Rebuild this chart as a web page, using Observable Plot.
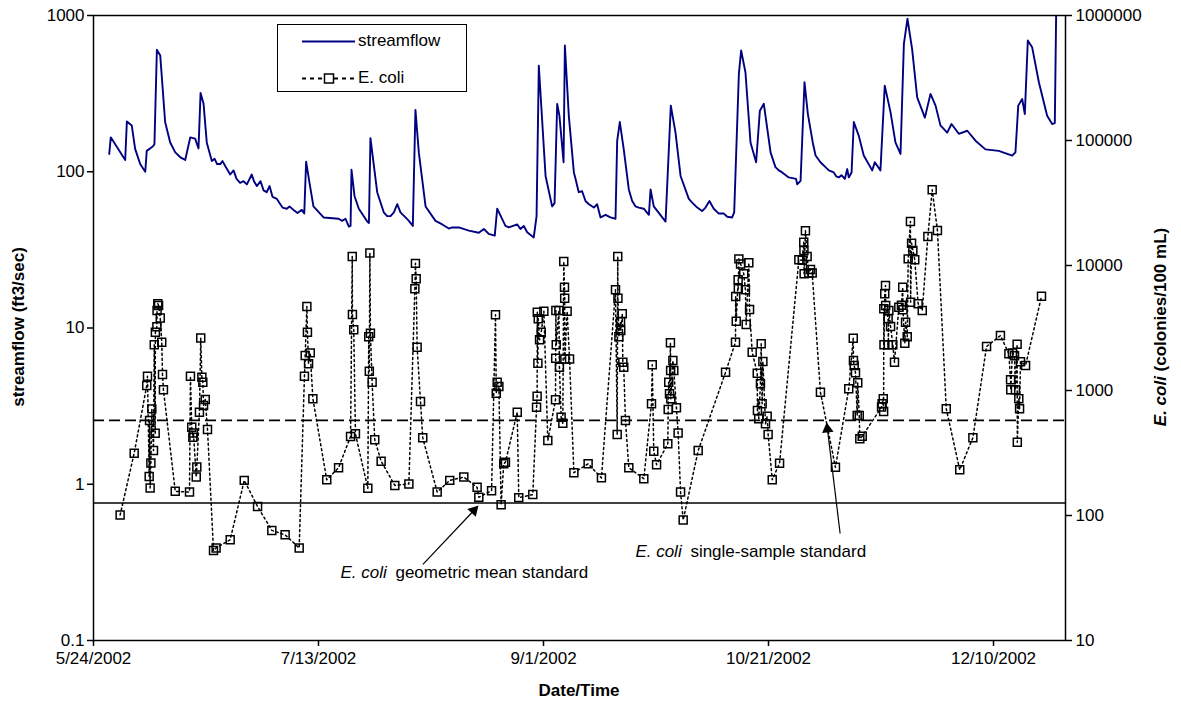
<!DOCTYPE html>
<html><head><meta charset="utf-8">
<script src="https://cdn.jsdelivr.net/npm/d3@7"></script>
<script src="https://cdn.jsdelivr.net/npm/@observablehq/plot@0.6"></script>
<style>body{margin:0;background:#fff;} svg{display:block}</style>
</head><body><div id="chart"></div>
<script>
// ---- streamflow (ft3/sec), times "m/d H" in 2002 ----
const flowTimes = [
"5/27 12","5/27 20","5/31 1","5/31 10","6/1 12","6/2 6","6/3 9","6/4 12","6/4 20","6/6 4",
"6/6 13","6/7 2","6/7 20","6/8 22","6/10 1","6/11 4","6/12 10","6/13 9","6/14 12","6/15 14",
"6/16 8","6/16 19","6/17 11","6/18 4","6/19 7","6/21 4","6/23 9","6/25 14","6/27 2","6/28 4",
"6/29 7","7/1 12","7/3 18","7/5 23","7/7 11","7/9 7","7/9 20","7/10 6","7/11 0","7/11 21",
"7/14 3","7/17 11","7/19 18","7/20 3","7/20 8","7/21 0","7/21 23","7/23 20","7/24 5","7/24 13",
"7/26 1","7/27 12","7/29 0","7/30 12","8/1 8","8/2 23","8/3 13","8/4 7","8/5 19","8/8 0",
"8/11 17","8/15 10","8/18 18","8/21 4","8/21 17","8/23 13","8/26 4","8/28 9","8/29 20","8/30 11",
"8/30 23","9/1 11","9/2 22","9/3 11","9/4 1","9/4 13","9/5 11","9/5 18","9/6 15","9/7 18",
"9/8 3","9/8 20","9/11 2","9/13 16","9/17 0","9/17 9","9/17 23","9/18 20","9/19 23","9/21 11",
"9/24 10","9/24 19","9/25 12","9/28 3","9/29 7","9/30 8","10/1 11","10/3 7","10/6 6","10/7 21",
"10/9 23","10/12 22","10/13 9","10/14 10","10/14 22","10/15 21","10/17 0","10/18 6","10/19 2","10/19 23",
"10/21 11","10/23 7","10/25 12","10/28 3","10/29 0","10/29 18","10/30 20","10/31 11","11/1 13","11/3 10",
"11/5 15","11/7 20","11/8 11","11/8 23","11/10 2","11/11 4","11/13 1","11/13 15","11/14 21","11/15 20",
"11/17 3","11/18 5","11/19 8","11/20 2","11/20 11","11/20 21","11/21 22","11/23 1","11/24 18","11/26 0",
"11/27 3","11/28 5","11/29 17","11/30 16","12/2 7","12/4 4","12/6 0","12/8 5","12/11 4","12/14 4",
"12/14 21","12/15 12","12/16 9","12/16 23","12/17 15","12/18 14","12/20 2","12/21 22","12/23 1","12/23 15",
"12/23 22","12/24 11"];
const flowValues = [
130,166,119,210,198,140,112,100,136,145,
150,603,554,208,154,133,123,119,166,163,
141,319,272,154,117,112,96,85,83,96,
81,74,67,58,57,57,54,116,85,60,
51,50,44.6,45,103,70,58,48,47,164,
74,55,52,62,51,45,249,133,60,48.5,
44,42,43,39,58,45,46,41,38,52,
477,94,60,63,272,228,115,642,228,99,
90,74,62,51,50,158,208,139,77,60,
53,77,60,48,265,178,94,67,56,65,
54,51,55,423,597,433,154,115,246,272,
133,102,92,87.5,374,234,154,127,115,102,
92,92,99,208,169,127,102,115,102,356,
240,154,130,658,782,953,610,299,222,315,
265,198,178,202,175,183,158,139,136,127,
133,265,292,234,692,627,374,228,202,205,
1000,1400];
// extra small wiggles read along the recessions
const flowDetailTimes = [
"6/19 22","6/20 11","6/21 16","6/22 8","6/24 3","6/24 19","6/26 8","6/28 16","6/30 3","6/30 19",
"7/2 3","7/2 19","7/5 0","7/6 13","7/8 8","7/18 6","7/19 0","7/28 6","7/29 18","7/31 5",
"8/2 2","8/9 12","8/10 23","8/13 4","8/17 15","8/19 20","8/24 7","8/26 21","8/27 15","9/9 14",
"9/10 8","9/12 5","9/12 22","9/14 19","9/15 21","9/20 17","9/22 4","9/23 7","9/24 1","10/4 1",
"10/5 4","10/7 0","10/8 20","10/11 2","10/11 20","10/22 13","10/24 1","10/27 3","10/27 9","11/2 16",
"11/4 12","11/5 1","11/6 5","11/6 23","11/7 12"];
const flowDetailValues = [
121,112,117,108,102,90,87,87,87,76,
81,69,59,60,54.5,48.5,50,52,55,55,
48.5,46,43.3,44,40.7,40,44,43,45,75,
65,59,62,53,51,65,59,58,54.5,63.5,
59,59,58,54,51.5,107,99,90,83,107,
99,93.5,95,90,104];

// ---- E. coli (colonies/100 mL) ----
const ecoliTimes = [
"5/29 22","6/2 1","6/4 20","6/5 0","6/5 9","6/5 11","6/5 14","6/5 18","6/5 23","6/6 8",
"6/6 12","6/6 17","6/6 18","6/7 2","6/7 3","6/7 7","6/7 11","6/7 20","6/8 4","6/8 8",
"6/8 13","6/11 4","6/14 8","6/14 13","6/14 20","6/15 2","6/15 5","6/15 20","6/15 23","6/16 13",
"6/16 20","6/17 2","6/17 7","6/17 11","6/17 20","6/18 8","6/19 16","6/20 6","6/23 9","6/26 12",
"6/29 11","7/2 15","7/5 14","7/8 17","7/9 21","7/10 1","7/10 10","7/10 13","7/10 19","7/11 4",
"7/11 18","7/14 20","7/17 11","7/20 3","7/20 12","7/20 13","7/20 20","7/21 5","7/23 23","7/24 4",
"7/24 7","7/24 10","7/24 13","7/24 22","7/25 12","7/26 22","7/29 23","8/2 2","8/3 10","8/3 13",
"8/3 17","8/3 22","8/4 16","8/5 4","8/8 9","8/11 4","8/14 7","8/17 6","8/17 15","8/20 11",
"8/21 8","8/21 12","8/21 17","8/22 2","8/22 14","8/23 4","8/23 13","8/26 4","8/26 12","8/29 15",
"8/30 11","8/30 14","8/30 15","8/30 18","8/30 20","8/31 3","8/31 12","9/1 2","9/1 23","9/3 16",
"9/3 17","9/3 18","9/3 20","9/4 10","9/4 13","9/4 22","9/5 7","9/5 12","9/5 16","9/5 17",
"9/5 18","9/6 6","9/6 19","9/7 18","9/10 22","9/13 21","9/17 0","9/17 9","9/17 12","9/17 13",
"9/17 18","9/18 3","9/18 4","9/18 12","9/18 15","9/18 20","9/19 5","9/19 23","9/23 7","9/25 0",
"9/25 4","9/25 12","9/26 3","9/28 15","9/28 17","9/28 20","9/29 0","9/29 5","9/29 6","9/29 7",
"9/29 18","9/29 23","9/30 13","9/30 22","10/1 11","10/2 1","10/5 9","10/11 11","10/13 16","10/13 17",
"10/13 20","10/14 6","10/14 7","10/14 10","10/14 19","10/15 12","10/15 21","10/16 1","10/16 15","10/16 19",
"10/17 9","10/18 12","10/18 13","10/18 20","10/19 5","10/19 9","10/19 14","10/19 18","10/20 8","10/20 17",
"10/20 22","10/21 20","10/23 11","10/27 18","10/28 12","10/28 20","10/28 21","10/28 22","10/29 5","10/29 14",
"10/29 23","10/30 8","10/30 17","11/1 13","11/4 21","11/7 20","11/8 20","11/8 21","11/9 1","11/9 8",
"11/9 17","11/9 20","11/10 4","11/10 7","11/10 20","11/15 3","11/15 6","11/15 12","11/15 14","11/15 15",
"11/15 16","11/15 20","11/16 0","11/16 1","11/16 14","11/16 15","11/16 18","11/17 3","11/17 15","11/18 0",
"11/18 23","11/19 13","11/19 20","11/19 21","11/20 7","11/20 11","11/20 20","11/21 1","11/21 13","11/21 14",
"11/21 19","11/22 2","11/22 12","11/23 6","11/24 4","11/25 10","11/26 9","11/27 13","11/29 12","12/2 12",
"12/5 10","12/8 11","12/11 13","12/13 10","12/13 19","12/13 20","12/14 5","12/14 16","12/14 21","12/15 6",
"12/15 7","12/15 15","12/15 19","12/16 0","12/17 3","12/20 16"];
const ecoliValues = [
101,315,1096,1300,205,575,166,263,713,331,
2320,455,2930,3240,4365,4950,4790,3800,2436,1343,
1013,156,154,1300,508,423,457,203,244,670,
2630,1277,1164,759,847,488,52.5,55,64,191,
118,76,70,55,1300,1905,4700,2930,1640,2000,
860,193,241,429,11800,4055,3060,450,165,2690,
1426,12600,2870,1164,403,272,174,179,6510,10400,
7830,2220,817,418,154,191,203,168,140,158,
4035,951,1164,1076,122,259,267,670,139,147,
735,900,4230,1653,3750,2545,2930,4300,398,843,
1813,4365,2320,4365,1536,611,547,10770,6700,5470,
1790,4300,1790,220,259,200,6390,445,11800,5470,
2690,3565,3020,4110,1683,1536,575,241,197,783,
1606,327,255,375,705,1164,941,2408,1445,860,
1738,1445,727,457,154,92,331,1400,2436,5650,
3580,7700,6510,11300,10300,8590,6390,3370,10500,4450,
2025,1375,692,594,1132,2366,783,1706,542,622,
445,193,262,11100,11000,15350,13200,8590,19000,11800,
8700,9300,8700,969,243,1031,2620,1738,1585,1385,
631,1153,631,411,431,737,783,859,679,4505,
2320,5940,6920,4790,3750,2320,4365,3250,2320,1683,
4640,4800,6700,4420,2390,3520,2690,11300,22500,5080,
15080,13200,11100,4950,4365,17060,40360,19050,714,232,
419,2250,2750,1968,1219,1013,2000,1900,1013,2340,
386,860,714,1700,1585,5675];

// standards (colonies/100 mL)
const geoMeanStd = 126;
const singleSampleStd = 576;

// axes
const leftTicks = [0.1, 1, 10, 100, 1000];
const rightTicks = [10, 100, 1000, 10000, 100000, 1000000];
const rightTickLabels = ["10", "100", "1000", "10000", "100000", "1000000"];
const xTickDates = ["5/24 0","7/13 0","9/1 0","10/21 0","12/10 0"];
const xStart = "5/24 0", xEnd = "12/26 0";

// annotations (positions in date / E. coli units)
const annLabels = ["geometric mean standard", "single-sample standard"];
const annText = [["7/17 21", 35], ["9/21 10", 51.5]];
const annTail = [["8/5 5", 40.6], ["11/5 22", 71.8]];
const annTip  = [["8/17 13", 120], ["11/2 22", 555]];

// ---------------------------------------------------------
const FONT = '"Liberation Sans", Arial, Helvetica, sans-serif';
const W = 1181, H = 708, mL = 93, mR = 116, mT = 15, mB = 68;
const parseT = s => d3.utcParse("%Y/%m/%d %H")("2002/" + s);
// right axis (E. coli, 10..1e6) drawn against left axis (0.1..1000)
const toLeft = e => Math.pow(10, -1 + (Math.log10(e) - 1) * 0.8);

const flow = flowTimes.map((t, i) => ({date: parseT(t), value: flowValues[i]}))
  .concat(flowDetailTimes.map((t, i) => ({date: parseT(t), value: flowDetailValues[i]})))
  .sort((a, b) => a.date - b.date);
const ecoli = ecoliTimes.map((t, i) => ({date: parseT(t), y: toLeft(ecoliValues[i])}));
const rightAxis = rightTicks.map((e, i) => ({y: toLeft(e), label: rightTickLabels[i]}));

const xs = d3.scaleUtc([parseT(xStart), parseT(xEnd)], [mL, W - mR]);
const ys = d3.scaleLog([0.1, 1000], [H - mB, mT]);
const headR = 4.3;
const apex = 2 * Math.sqrt(Math.PI * headR * headR / (Math.sqrt(3) * 3));
const arrows = annLabels.map((lab, i) => {
  const tx = xs(parseT(annTail[i][0])), ty = ys(toLeft(annTail[i][1]));
  const px = xs(parseT(annTip[i][0])), py = ys(toLeft(annTip[i][1]));
  const len = Math.hypot(px - tx, py - ty);
  const ux = (px - tx) / len, uy = (py - ty) / len;
  const cx = px - ux * apex, cy = py - uy * apex;
  return {
    x1: xs.invert(tx), y1: ys.invert(ty),
    x2: xs.invert(cx), y2: ys.invert(cy),
    angle: Math.atan2(ux, -uy) * 180 / Math.PI,
    tx: parseT(annText[i][0]), ty: toLeft(annText[i][1]), label: lab
  };
});

const plot = Plot.plot({
  width: W, height: H,
  marginLeft: mL, marginRight: mR, marginTop: mT, marginBottom: mB,
  style: {fontFamily: FONT, fontSize: "17px", background: "white", color: "black", overflow: "visible"},
  x: {type: "utc", domain: [parseT(xStart), parseT(xEnd)]},
  y: {type: "log", domain: [0.1, 1000]},
  marks: [
    Plot.ruleY([toLeft(singleSampleStd)], {stroke: "black", strokeWidth: 1.8, strokeDasharray: "11,5"}),
    Plot.ruleY([toLeft(geoMeanStd)], {stroke: "black", strokeWidth: 1.5}),
    Plot.line(flow, {x: "date", y: "value", stroke: "#000080", strokeWidth: 1.9, clip: true}),
    Plot.line(ecoli, {x: "date", y: "y", stroke: "black", strokeWidth: 1.5, strokeDasharray: "2,3"}),
    Plot.dot(ecoli, {x: "date", y: "y", symbol: "square", r: 4.5, stroke: "black", strokeWidth: 1.5, fill: "none"}),
    Plot.link(arrows, {x1: "x1", y1: "y1", x2: "x2", y2: "y2", stroke: "black", strokeWidth: 1.2}),
    Plot.dot(arrows, {x: "x2", y: "y2", symbol: "triangle", r: headR, fill: "black", stroke: "none", rotate: "angle"}),
    Plot.text(arrows, {x: "tx", y: "ty", text: () => "E. coli", fontStyle: "italic", textAnchor: "start", fontSize: 17, fill: "black"}),
    Plot.text(arrows, {x: "tx", y: "ty", text: "label", dx: 55, textAnchor: "start", fontSize: 17, fill: "black"}),
    Plot.frame({stroke: "black", strokeWidth: 1.5}),
    Plot.axisY(leftTicks, {anchor: "left", tickSize: 6, tickPadding: 3, tickFormat: d => String(d), label: null, fontSize: 17, strokeWidth: 1.5}),
    Plot.axisY(rightAxis.map(d => d.y), {anchor: "right", tickSize: 6, tickFormat: () => "", label: null, strokeWidth: 1.5}),
    Plot.text(rightAxis, {y: "y", text: "label", frameAnchor: "right", dx: 10, textAnchor: "start", fontSize: 17, fill: "black"}),
    Plot.axisX(xTickDates.map(parseT), {tickSize: 6, tickPadding: 5, tickFormat: d3.utcFormat("%-m/%-d/%Y"), label: null, fontSize: 17, strokeWidth: 1.5})
  ]
});
document.getElementById("chart").appendChild(plot);

// axis titles and legend
const svg = d3.select(plot);
const g = svg.append("g").attr("font-family", FONT).attr("fill", "black");
g.append("text").attr("transform", "translate(20,327) rotate(-90)").attr("text-anchor", "middle")
  .attr("dominant-baseline", "middle").attr("font-size", 17).attr("font-weight", "bold").text("streamflow (ft3/sec)");
const rt = g.append("text").attr("transform", "translate(1162,327) rotate(-90)").attr("text-anchor", "middle")
  .attr("dominant-baseline", "middle").attr("font-size", 17).attr("font-weight", "bold");
rt.append("tspan").attr("font-style", "italic").text("E. coli");
rt.append("tspan").text(" (colonies/100 mL)");
g.append("text").attr("x", (mL + W - mR) / 2).attr("y", 692).attr("text-anchor", "middle")
  .attr("dominant-baseline", "middle").attr("font-size", 17).attr("font-weight", "bold").text("Date/Time");

const lg = g.append("g").attr("font-size", 17).attr("text-anchor", "start");
lg.append("rect").attr("x", 277.5).attr("y", 24.5).attr("width", 189).attr("height", 67)
  .attr("fill", "white").attr("stroke", "black").attr("stroke-width", 1);
lg.append("line").attr("x1", 302).attr("x2", 355).attr("y1", 41.5).attr("y2", 41.5)
  .attr("stroke", "#000080").attr("stroke-width", 1.8);
lg.append("text").attr("x", 358).attr("y", 41.5).attr("dominant-baseline", "middle").text("streamflow");
lg.append("line").attr("x1", 302).attr("x2", 355).attr("y1", 78.5).attr("y2", 78.5)
  .attr("stroke", "black").attr("stroke-width", 1.8).attr("stroke-dasharray", "4,4");
lg.append("rect").attr("x", 324.5).attr("y", 74).attr("width", 9).attr("height", 9)
  .attr("fill", "white").attr("stroke", "black").attr("stroke-width", 1.5);
lg.append("text").attr("x", 358).attr("y", 78.5).attr("dominant-baseline", "middle").text("E. coli");
</script>
</body></html>
